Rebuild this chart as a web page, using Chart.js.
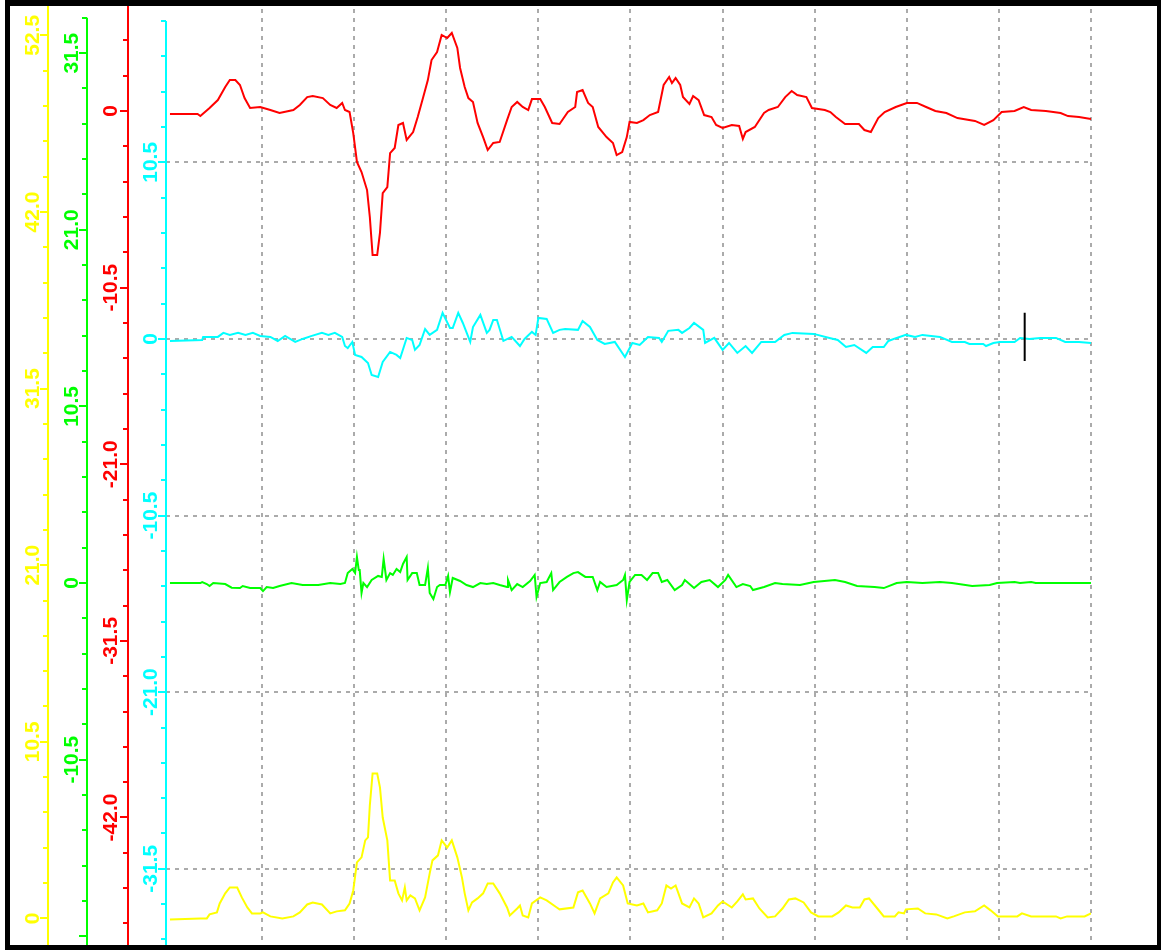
<!DOCTYPE html>
<html>
<head>
<meta charset="utf-8">
<script src="https://cdn.jsdelivr.net/npm/chart.js@4.4.1/dist/chart.umd.min.js"></script>
<style>
  html, body { margin: 0; padding: 0; background: #ffffff; }
  #wrap { position: relative; width: 1161px; height: 950px; }
  canvas { display: block; }
</style>
</head>
<body>
<div id="wrap"><canvas id="traces" width="1161" height="950"></canvas></div>
<script>
// Four recorded channels sharing one time base (seconds).
const redTime = [0.00,0.30,0.33,0.43,0.52,0.60,0.65,0.71,0.76,0.81,
  0.87,0.98,1.09,1.19,1.34,1.41,1.49,1.55,1.66,1.74,
  1.81,1.87,1.90,1.95,1.99,2.03,2.08,2.14,2.17,2.20,
  2.25,2.28,2.31,2.36,2.39,2.44,2.48,2.53,2.57,2.64,
  2.69,2.75,2.80,2.84,2.90,2.95,3.01,3.06,3.12,3.15,
  3.20,3.24,3.29,3.34,3.40,3.45,3.51,3.58,3.66,3.71,
  3.77,3.83,3.89,3.93,4.02,4.07,4.15,4.23,4.32,4.40,
  4.42,4.48,4.54,4.59,4.65,4.74,4.81,4.85,4.91,4.96,
  4.99,5.07,5.14,5.21,5.30,5.36,5.42,5.45,5.49,5.54,
  5.57,5.64,5.68,5.74,5.80,5.88,5.93,6.00,6.10,6.18,
  6.22,6.25,6.35,6.45,6.50,6.60,6.68,6.75,6.81,6.91,
  6.97,7.11,7.17,7.23,7.33,7.48,7.54,7.61,7.69,7.76,
  7.88,8.00,8.11,8.21,8.31,8.43,8.55,8.74,8.84,8.94,
  9.03,9.17,9.27,9.35,9.51,9.67,9.75,9.87,10.00];
const redValues = [-0.18,-0.18,-0.30,0.18,0.65,1.43,1.84,1.84,1.55,0.77,
  0.18,0.24,0.06,-0.12,0.06,0.36,0.83,0.89,0.77,0.36,
  0.18,0.48,0.06,-0.06,-1.31,-3.03,-3.63,-4.70,-6.30,-8.56,
  -8.56,-7.25,-4.88,-4.52,-2.50,-2.20,-0.83,-0.71,-1.72,-1.25,
  -0.36,0.83,1.84,3.03,3.51,4.52,4.34,4.64,3.75,2.56,
  1.43,0.77,0.54,-0.71,-1.55,-2.32,-1.90,-1.84,-0.54,0.24,
  0.54,0.24,0.06,0.71,0.71,0.24,-0.71,-0.77,-0.06,0.24,
  1.13,1.25,0.48,0.24,-0.95,-1.55,-1.90,-2.62,-2.44,-1.55,
  -0.65,-0.71,-0.54,-0.24,-0.06,1.55,2.02,1.66,1.96,1.55,
  0.83,0.42,0.89,0.65,-0.24,-0.36,-0.83,-1.01,-0.83,-0.89,
  -1.66,-1.25,-0.95,-0.12,0.06,0.24,0.83,1.19,0.95,0.83,
  0.18,0.06,-0.06,-0.36,-0.77,-0.77,-1.13,-1.25,-0.42,-0.06,
  0.24,0.48,0.48,0.24,0.00,-0.12,-0.42,-0.59,-0.83,-0.54,
  -0.06,0.00,0.24,0.06,0.00,-0.12,-0.30,-0.36,-0.48];

const cyanTime = [0.00,0.35,0.36,0.52,0.58,0.65,0.74,0.82,0.90,0.98,
  1.09,1.17,1.25,1.36,1.44,1.54,1.65,1.72,1.79,1.87,
  1.90,1.93,1.98,2.01,2.08,2.15,2.19,2.26,2.31,2.39,
  2.46,2.50,2.57,2.63,2.66,2.71,2.77,2.82,2.90,2.96,
  3.04,3.07,3.13,3.18,3.26,3.29,3.37,3.44,3.47,3.51,
  3.55,3.62,3.71,3.80,3.85,3.93,3.97,4.00,4.09,4.16,
  4.23,4.29,4.43,4.48,4.56,4.64,4.72,4.83,4.94,5.02,
  5.10,5.19,5.31,5.34,5.41,5.52,5.56,5.64,5.69,5.79,
  5.81,5.91,6.00,6.07,6.16,6.25,6.32,6.42,6.57,6.67,
  6.76,6.99,7.16,7.25,7.34,7.43,7.56,7.63,7.75,7.80,
  7.89,7.99,8.09,8.17,8.36,8.49,8.63,8.68,8.83,8.86,
  8.94,9.01,9.17,9.23,9.33,9.45,9.62,9.72,9.87,10.00];
const cyanValues = [-0.12,-0.06,0.12,0.12,0.36,0.24,0.36,0.24,0.36,0.18,
  0.12,-0.12,0.18,-0.18,0.00,0.18,0.36,0.24,0.36,0.12,
  -0.42,-0.54,-0.18,-0.95,-1.07,-1.43,-2.14,-2.26,-1.37,-0.77,
  -0.95,-1.13,0.06,-0.06,-0.65,-0.36,0.59,0.24,0.54,1.55,
  0.65,0.65,1.55,0.95,-0.18,0.71,1.43,0.36,0.54,1.13,
  1.13,-0.12,0.12,-0.42,0.00,0.42,0.24,1.25,1.19,0.36,
  0.54,0.59,0.54,1.07,0.71,-0.06,-0.30,-0.18,-1.07,-0.24,
  -0.36,0.12,0.06,-0.18,0.48,0.54,0.36,0.65,0.95,0.54,
  -0.24,0.06,-0.65,-0.24,-0.83,-0.42,-0.83,-0.18,-0.18,0.24,
  0.36,0.30,0.06,-0.06,-0.48,-0.36,-0.83,-0.48,-0.48,-0.12,
  0.06,0.24,0.12,0.24,0.12,-0.18,-0.18,-0.30,-0.30,-0.42,
  -0.24,-0.18,-0.18,0.06,0.00,0.06,0.06,-0.18,-0.18,-0.24];

const greenTime = [0.00,0.33,0.35,0.40,0.43,0.47,0.60,0.67,0.76,0.79,
  0.87,0.98,1.01,1.05,1.12,1.19,1.32,1.44,1.61,1.74,
  1.85,1.90,1.93,1.98,2.01,2.03,2.05,2.06,2.08,2.10,
  2.14,2.19,2.26,2.30,2.32,2.35,2.39,2.42,2.46,2.50,
  2.53,2.57,2.58,2.63,2.68,2.71,2.77,2.80,2.82,2.86,
  2.90,2.93,2.99,3.02,3.04,3.07,3.15,3.22,3.29,3.37,
  3.44,3.51,3.58,3.66,3.67,3.71,3.77,3.83,3.91,3.96,
  3.98,4.02,4.09,4.14,4.16,4.23,4.31,4.38,4.43,4.51,
  4.59,4.64,4.67,4.74,4.85,4.92,4.94,4.96,4.99,5.05,
  5.12,5.18,5.24,5.30,5.34,5.40,
  5.48,5.56,5.59,5.69,5.77,5.86,5.95,6.03,6.06,6.15,
  6.22,6.30,6.33,6.45,6.57,6.65,6.84,6.99,7.22,7.33,
  7.46,7.65,7.75,7.89,8.00,8.17,8.36,8.49,8.71,8.90,
  8.98,9.17,9.23,9.35,9.40,10.00];
const greenValues = [0,0,0.06,-0.06,-0.18,0,-0.06,-0.28,-0.30,-0.18,
  -0.30,-0.30,-0.48,-0.24,-0.30,-0.18,0,-0.12,-0.12,0,
  -0.06,0,0.59,0.83,0.59,1.55,0.77,0.77,-0.59,0,
  -0.24,0.18,0.42,0.36,1.43,0.18,0.59,0.48,0.83,0.65,
  1.13,1.55,0.18,0.59,0.59,-0.12,-0.12,0.89,-0.59,-0.95,
  -0.24,-0.12,-0.12,0.42,-0.54,0.30,0.12,-0.12,-0.24,0,
  -0.06,0,-0.12,-0.24,0.18,-0.42,-0.06,-0.24,0.12,0.48,
  -0.83,0,0.06,0.59,-0.42,0.06,0.36,0.59,0.65,0.36,
  0.36,-0.42,0.06,-0.24,-0.12,0.18,0.48,-1.01,0.06,0.48,
  0.48,0.18,0.59,0.59,0.06,0.18,
  -0.42,-0.12,0.18,-0.30,0.06,0.18,-0.24,0.18,0.48,-0.24,
  -0.06,-0.18,-0.42,-0.24,0,-0.06,-0.12,0.06,0.18,0.06,
  -0.18,-0.24,-0.30,0,0.06,0,0.06,0,-0.18,-0.12,
  0,0.06,0,0.06,0,0];

const yellowTime = [0.00,0.33,0.40,0.43,0.51,0.54,0.60,0.65,0.73,0.78,
  0.84,0.89,0.98,1.01,1.09,1.22,1.34,1.41,1.49,1.55,
  1.65,1.74,1.81,1.90,1.95,1.99,2.03,2.08,2.12,2.15,
  2.17,2.20,2.25,2.28,2.31,2.36,2.39,2.44,2.48,2.52,
  2.55,2.57,2.61,2.66,2.71,2.77,2.82,2.85,2.91,2.95,
  3.01,3.06,3.12,3.17,3.20,3.24,3.28,3.34,3.40,3.45,
  3.51,3.58,3.66,3.69,3.77,3.80,3.83,3.89,3.93,4.02,
  4.09,4.20,4.23,4.38,4.43,4.48,4.56,4.61,4.67,4.76,
  4.81,4.85,4.92,4.97,5.07,5.14,5.19,5.29,5.34,5.39,
  5.44,5.49,5.56,5.64,5.69,5.74,5.79,5.88,5.95,6.00,
  6.10,6.16,6.22,6.25,6.33,6.40,6.49,6.57,6.65,6.72,
  6.79,6.88,6.96,7.04,7.19,7.26,7.34,7.41,7.49,7.54,
  7.59,7.68,7.75,7.87,7.91,7.97,7.99,8.12,8.20,8.32,
  8.44,8.51,8.63,8.74,8.84,8.91,8.99,9.20,9.25,9.35,
  9.62,9.67,9.74,9.93,10.00];
const yellowValues = [-0.06,0,0,0.24,0.36,0.89,1.49,1.84,1.84,1.25,
  0.65,0.30,0.30,0.36,0.12,0,0.12,0.36,0.83,0.95,
  0.83,0.30,0.42,0.48,0.89,1.66,3.33,3.63,4.64,4.82,
  6.72,8.62,8.62,7.79,6.00,4.64,2.26,2.26,1.49,1.07,
  1.84,1.07,1.37,1.19,0.48,1.25,2.68,3.45,3.75,4.64,
  4.22,4.64,3.63,2.44,1.49,0.48,0.95,1.19,1.49,2.08,
  2.08,1.49,0.65,0.18,0.59,0.77,0.18,0.06,0.89,1.25,
  1.07,0.65,0.54,0.65,1.55,1.66,0.89,0.30,1.19,1.49,
  2.14,2.44,1.96,0.89,0.77,0.89,0.36,0.48,0.89,1.96,
  1.78,1.96,0.89,0.65,1.19,0.89,0.06,0.30,0.77,1.01,
  0.65,1.01,1.43,1.13,1.19,0.59,0.06,0.12,0.59,1.13,
  1.19,0.95,0.36,0.12,0.12,0.36,0.77,0.65,0.65,1.13,
  1.19,0.59,0.12,0.12,0.36,0.30,0.54,0.59,0.30,0.24,
  0,0.12,0.36,0.42,0.77,0.48,0.12,0.12,0.30,0.12,
  0.12,0,0.12,0.12,0.30];

// Cursor mark placed on the cyan channel.
const cursorTime = [9.28, 9.28];
const cursorValues = [1.55, -1.31];

// Axis ticks: minor every 2.1, labelled every 10.5.
const minorStep = 2.1;
const yellowMajor = [0, 10.5, 21.0, 31.5, 42.0, 52.5];
const yellowLabels = ['0', '10.5', '21.0', '31.5', '42.0', '52.5'];
const greenMajor = [-10.5, 0, 10.5, 21.0, 31.5];
const greenLabels = ['-10.5', '0', '10.5', '21.0', '31.5'];
const redMajor = [-42.0, -31.5, -21.0, -10.5, 0];
const redLabels = ['-42.0', '-31.5', '-21.0', '-10.5', '0'];
const cyanMajor = [-31.5, -21.0, -10.5, 0, 10.5];
const cyanLabels = ['-31.5', '-21.0', '-10.5', '0', '10.5'];
const timeGrid = [1, 2, 3, 4, 5, 6, 7, 8, 9, 10];

const COLORS = { red: '#ff0000', cyan: '#00ffff', green: '#00ff00', yellow: '#ffff00' };
const GRID = '#ababab';

const pairs = (xs, ys) => xs.map((x, i) => ({ x: x, y: ys[i] }));
const isMajor = v => Math.abs(v / 10.5 - Math.round(v / 10.5)) < 1e-6;

function minorTicks(min, max) {
  const out = [];
  for (let k = Math.ceil(min / minorStep - 1e-9); k * minorStep <= max + 1e-9; k++) {
    out.push({ value: Math.round(k * minorStep * 10) / 10 });
  }
  return out;
}

function channelAxis(min, max, weight, width, withGrid) {
  return {
    type: 'linear',
    position: 'left',
    min: min,
    max: max,
    weight: weight,
    afterFit: s => { s.width = width; },
    afterBuildTicks: s => { s.ticks = minorTicks(min, max); },
    ticks: { display: false },
    grid: {
      display: withGrid,
      drawOnChartArea: withGrid,
      drawTicks: false,
      lineWidth: 2,
      color: ctx => (ctx.tick && isMajor(ctx.tick.value)) ? GRID : 'rgba(0,0,0,0)'
    },
    border: { display: false, dash: [4, 5] }
  };
}

const axisSpecs = [
  { id: 'yYellow', color: COLORS.yellow, major: yellowMajor, labels: yellowLabels, gap: 9 },
  { id: 'yGreen', color: COLORS.green, major: greenMajor, labels: greenLabels, gap: 9 },
  { id: 'yRed', color: COLORS.red, major: redMajor, labels: redLabels, gap: 11 },
  { id: 'yCyan', color: COLORS.cyan, major: cyanMajor, labels: cyanLabels, gap: 9 }
];

// Axis lines, tick marks and rotated tick labels for each channel axis.
const channelAxesPlugin = {
  id: 'channelAxes',
  afterDatasetsDraw(chart) {
    const ctx = chart.ctx;
    const area = chart.chartArea;
    axisSpecs.forEach(spec => {
      const s = chart.scales[spec.id];
      const x = s.right;
      const values = s.ticks.map(t => t.value);
      const topPx = Math.max(area.top, s.getPixelForValue(Math.max.apply(null, values)));
      ctx.save();
      ctx.strokeStyle = spec.color;
      ctx.lineWidth = 2;
      ctx.beginPath();
      ctx.moveTo(x, topPx);
      ctx.lineTo(x, area.bottom);
      ctx.stroke();
      values.forEach(v => {
        const y = Math.round(s.getPixelForValue(v));
        const len = isMajor(v) ? 8 : 5;
        ctx.beginPath();
        ctx.moveTo(x - len, y);
        ctx.lineTo(x, y);
        ctx.stroke();
      });
      ctx.fillStyle = spec.color;
      ctx.font = 'bold 21px "Liberation Sans", Arial, sans-serif';
      ctx.textAlign = 'center';
      ctx.textBaseline = 'alphabetic';
      spec.major.forEach((v, i) => {
        const y = s.getPixelForValue(v);
        ctx.save();
        ctx.translate(x - spec.gap, y);
        ctx.rotate(-Math.PI / 2);
        ctx.fillText(spec.labels[i], 0, 0);
        ctx.restore();
      });
      ctx.restore();
    });
  }
};

// Heavy black frame round the plot.
const framePlugin = {
  id: 'frame',
  afterDraw(chart) {
    const ctx = chart.ctx;
    const w = chart.width, h = chart.height;
    ctx.save();
    ctx.fillStyle = '#000000';
    ctx.fillRect(5, 0, w - 5, 6);
    ctx.fillRect(5, 0, 5, h);
    ctx.fillRect(5, h - 5, w - 5, 5);
    ctx.fillRect(w - 4, 0, 4, h);
    ctx.restore();
  }
};

const lineStyle = color => ({
  borderColor: color,
  backgroundColor: color,
  borderWidth: 2,
  pointRadius: 0,
  tension: 0,
  fill: false
});

new Chart(document.getElementById('traces'), {
  type: 'line',
  data: {
    datasets: [
      Object.assign({ label: 'cursor', yAxisID: 'yCyan', data: pairs(cursorTime, cursorValues) }, lineStyle('#000000')),
      Object.assign({ label: 'red', yAxisID: 'yRed', data: pairs(redTime, redValues) }, lineStyle(COLORS.red)),
      Object.assign({ label: 'cyan', yAxisID: 'yCyan', data: pairs(cyanTime, cyanValues) }, lineStyle(COLORS.cyan)),
      Object.assign({ label: 'green', yAxisID: 'yGreen', data: pairs(greenTime, greenValues) }, lineStyle(COLORS.green)),
      Object.assign({ label: 'yellow', yAxisID: 'yYellow', data: pairs(yellowTime, yellowValues) }, lineStyle(COLORS.yellow))
    ]
  },
  options: {
    responsive: false,
    animation: false,
    devicePixelRatio: 1,
    layout: { padding: { left: 10, right: 70, top: 0, bottom: 5 } },
    plugins: { legend: { display: false }, tooltip: { enabled: false } },
    events: [],
    scales: {
      x: {
        type: 'linear',
        min: -0.043,
        max: 10,
        afterFit: s => { s.height = 0; },
        afterBuildTicks: s => { s.ticks = timeGrid.map(v => ({ value: v })); },
        ticks: { display: false },
        grid: { drawTicks: false, color: GRID, lineWidth: 2 },
        border: { display: false, dash: [4, 5] }
      },
      yCyan: channelAxis(-36.03, 20.15, 0, 38, true),
      yRed: channelAxis(-49.58, 6.60, 1, 41, false),
      yGreen: channelAxis(-21.52, 34.66, 2, 39, false),
      yYellow: channelAxis(-1.58, 54.60, 3, 38, false)
    }
  },
  plugins: [channelAxesPlugin, framePlugin]
});
</script>
</body>
</html>
